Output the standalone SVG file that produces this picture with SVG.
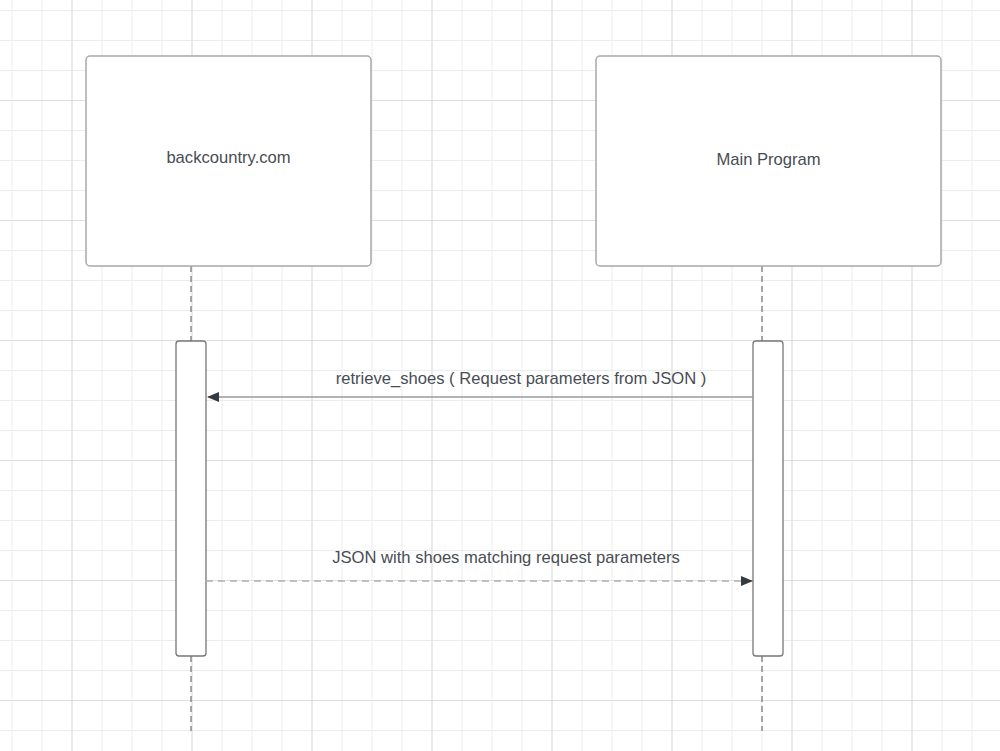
<svg xmlns="http://www.w3.org/2000/svg" width="1000" height="751" viewBox="0 0 1000 751">
<defs>
<pattern id="minor" x="11.5" y="10" width="30" height="30" patternUnits="userSpaceOnUse">
<path d="M0 0.5H30M0.5 0V30" fill="none" stroke="#ececec" stroke-width="1"/>
</pattern>
<pattern id="major" x="71.5" y="100" width="120" height="120" patternUnits="userSpaceOnUse">
<path d="M0 0.5H120M0.5 0V120" fill="none" stroke="#e0e0e0" stroke-width="1"/>
</pattern>
<marker id="arr" viewBox="0 0 12 10" refX="11" refY="5" markerWidth="12" markerHeight="10" markerUnits="userSpaceOnUse" orient="auto">
<path d="M0 0L12 5L0 10Z" fill="#333a40"/>
</marker>
<style>
.box{fill:#fff;stroke:#a8a8a8;stroke-width:1.5}
.act{fill:#fff;stroke:#777;stroke-width:1.3}
.life{stroke:#555;stroke-width:1;stroke-dasharray:6 4;fill:none}
.msg{stroke:#9a9a9a;stroke-width:1.5;fill:none}
.ret{stroke:#b0b0b0;stroke-width:1.5;stroke-dasharray:7 5;fill:none}
text{font-family:"Liberation Sans",Arial,sans-serif;font-size:16.6px;fill:#474d54;text-anchor:middle}
</style>
</defs>
<rect width="1000" height="751" fill="#fff"/>
<rect width="1000" height="751" fill="url(#minor)"/>
<rect width="1000" height="751" fill="url(#major)"/>
<g id="lifelines">
<line class="life" x1="191" y1="266" x2="191" y2="341"/>
<line class="life" x1="191" y1="656" x2="191" y2="731"/>
<line class="life" x1="762" y1="266" x2="762" y2="341"/>
<line class="life" x1="762" y1="656" x2="762" y2="731"/>
</g>
<g id="backcountry">
<rect class="box" x="86" y="56" width="285" height="210" rx="4"/>
<text x="228.5" y="163">backcountry.com</text>
</g>
<g id="main-program">
<rect class="box" x="596" y="56" width="345" height="210" rx="4"/>
<text x="768.5" y="165">Main Program</text>
</g>
<g id="act-backcountry">
<rect class="act" x="176" y="341" width="30" height="315" rx="3"/>
</g>
<g id="act-main">
<rect class="act" x="753" y="341" width="30" height="315" rx="3"/>
</g>
<g id="connectors">
<line class="msg" x1="753" y1="397" x2="208" y2="397" marker-end="url(#arr)"/>
<text x="521" y="384">retrieve_shoes ( Request parameters from JSON )</text>
<line class="ret" x1="206" y1="581" x2="752" y2="581" marker-end="url(#arr)"/>
<text x="506" y="563">JSON with shoes matching request parameters</text>
</g>
</svg>
